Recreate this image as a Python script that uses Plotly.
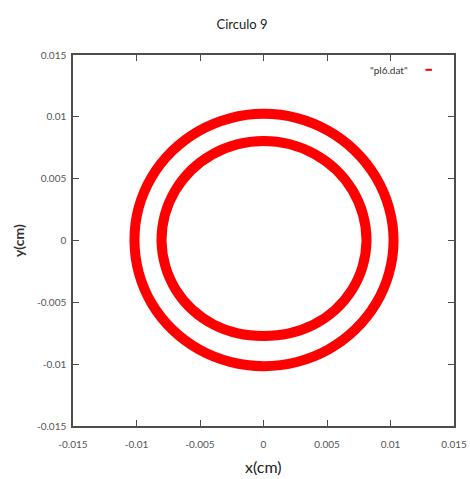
import numpy as np
import plotly.graph_objects as go

# Ring radii (cm) read at fixed polar angles (degrees)
angles_deg = [0, 15, 30, 45, 60, 75, 90, 105, 120, 135, 150, 165,
              180, 195, 210, 225, 240, 255, 270, 285, 300, 315, 330, 345]
outer_r = [0.01024, 0.01023, 0.01022, 0.01022, 0.01023, 0.01024,
           0.01024, 0.01023, 0.01022, 0.01020, 0.01019, 0.01018,
           0.01016, 0.01016, 0.01017, 0.01017, 0.01017, 0.01016,
           0.01016, 0.01017, 0.01019, 0.01020, 0.01022, 0.01023]
inner_r = [0.00811, 0.00811, 0.00810, 0.00809, 0.00807, 0.00806,
           0.00805, 0.00805, 0.00805, 0.00805, 0.00804, 0.00804,
           0.00803, 0.00800, 0.00797, 0.00792, 0.00785, 0.00778,
           0.00772, 0.00778, 0.00787, 0.00796, 0.00803, 0.00808]

tick_vals = [-0.015, -0.01, -0.005, 0, 0.005, 0.01, 0.015]
tick_text = ["-0.015", "-0.01", "-0.005", "0", "0.005", "0.01", "0.015"]

RED = "#ff0000"
AXIS = "#4d4d4d"
FONT = "Lato"


def ring_xy(radii):
    th = np.deg2rad(angles_deg + [angles_deg[0]])
    r = np.array(radii + [radii[0]])
    return list(r * np.cos(th)), list(r * np.sin(th))


xo, yo = ring_xy(outer_r)
xi, yi = ring_xy(inner_r)

fig = go.Figure()
fig.add_trace(go.Scatter(
    x=xo + [None] + xi, y=yo + [None] + yi,
    mode="lines", line=dict(color=RED, width=10, shape="spline", smoothing=1.0),
    connectgaps=False, showlegend=False, name='"pl6.dat"',
))

axis_common = dict(
    range=[-0.015, 0.015], tickvals=tick_vals, ticktext=tick_text,
    showgrid=False, zeroline=False, showline=True, linecolor=AXIS, linewidth=1.5,
    mirror="ticks", ticks="inside", ticklen=6, tickcolor=AXIS, tickwidth=1.2,
    tickfont=dict(family=FONT, size=10, color="#555555"), automargin=False,
)

fig.update_layout(
    width=470, height=479,
    margin=dict(l=73, r=16, t=55, b=53),
    paper_bgcolor="white", plot_bgcolor="white",
    showlegend=False,
    title=dict(text="Circulo 9", x=0.515, xanchor="center", y=0.948, yanchor="middle",
               font=dict(family=FONT, size=13, color="#222222")),
    xaxis=dict(**axis_common, ticklabelstandoff=8),
    yaxis=dict(**axis_common, ticklabelstandoff=3),
)

# Axis titles
fig.add_annotation(text="x(cm)", xref="paper", yref="paper", x=0.5, y=-0.108,
                   xanchor="center", yanchor="middle", showarrow=False,
                   font=dict(family=FONT, size=16, color="#222222"))
fig.add_annotation(text="<b>y(cm)</b>", xref="paper", yref="paper", x=-0.143, y=0.5,
                   xanchor="center", yanchor="middle", showarrow=False, textangle=-90,
                   font=dict(family=FONT, size=14, color="#333333"))

# Key text and sample in the top-right corner
fig.add_annotation(text='"pl6.dat"', xref="paper", yref="paper", x=0.885, y=0.96,
                   xanchor="right", yanchor="middle", showarrow=False,
                   font=dict(family=FONT, size=10, color="#333333"))
fig.add_shape(type="line", xref="paper", yref="paper", x0=0.925, x1=0.942, y0=0.96, y1=0.96,
              line=dict(color=RED, width=2))

fig.write_html("out.html")
